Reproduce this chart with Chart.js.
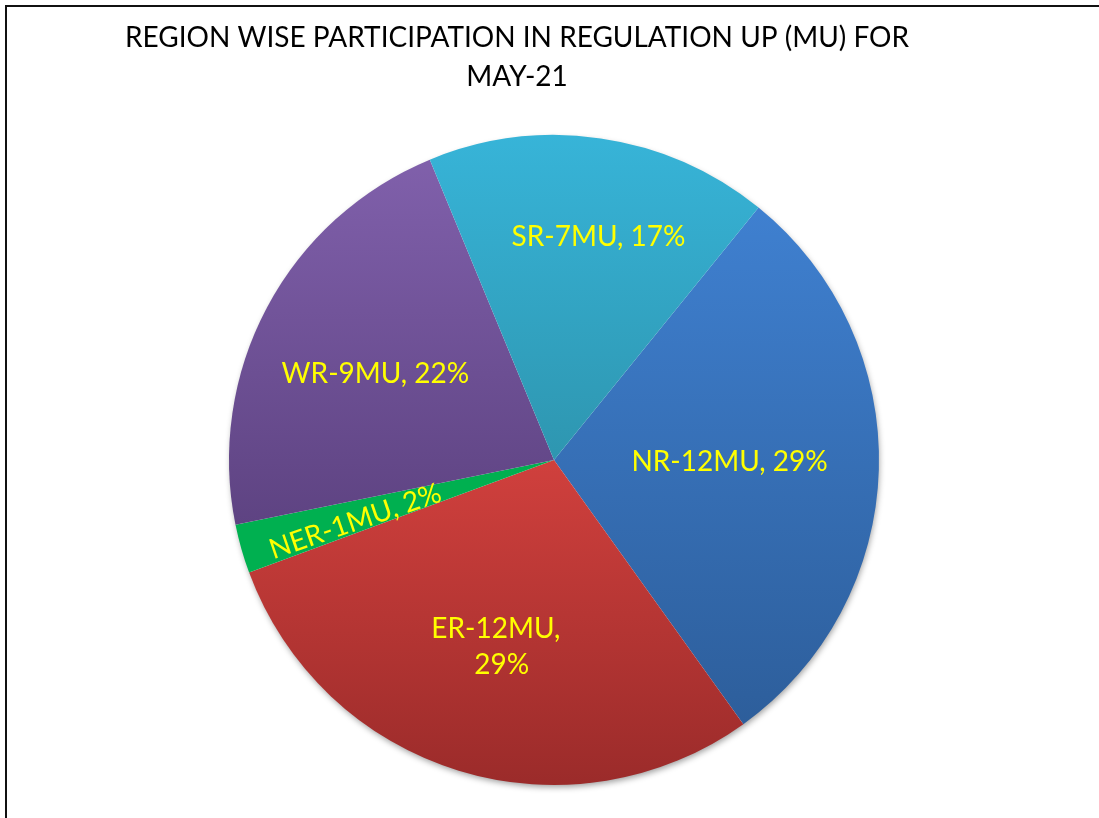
<!DOCTYPE html>
<html>
<head>
<meta charset="utf-8">
<script src="https://cdn.jsdelivr.net/npm/chart.js@4/dist/chart.umd.min.js"></script>
<style>
    body { margin: 0; background: #fff; }
    #wrap { position: relative; width: 1099px; height: 818px; }
    #frame {
        position: absolute; left: 5px; top: 5px; right: 0; bottom: 0;
        border-left: 2px solid #111; border-top: 2px solid #111;
        pointer-events: none;
    }
</style>
</head>
<body>
<div id="wrap">
    <canvas id="pieChart"></canvas>
    <div id="frame"></div>
</div>
<script>
// Datos del gráfico
const regions = ['NR', 'ER', 'NER', 'WR', 'SR'];
const energyMU = [12, 12, 1, 9, 7];
const sharePct = [29, 29, 2, 22, 17];
const titleLines = ['REGION WISE PARTICIPATION IN REGULATION UP (MU) FOR', 'MAY-21'];

// Colores (arriba, abajo) de cada sector
const topColors = ['#3f80d0', '#d0403d', '#00b050', '#8060ab', '#37b4d8'];
const bottomColors = ['#2d5e9b', '#9b2b2a', '#00b050', '#5e4382', '#2e96b0'];

// Posición de las etiquetas: fracción del radio, desplazamiento angular (grados), giro del texto
const labelPlace = [[0.54, -1, 0], [0.6, -0.6, 0], [0.64, -1.3, -19], [0.61, -2.3, 0], [0.7, 3, 0]];

// Extensión vertical de un sector para el degradado
function arcYRange(arc) {
    const { x, y, startAngle, endAngle, outerRadius } = arc;
    const ys = [y, y + Math.sin(startAngle) * outerRadius, y + Math.sin(endAngle) * outerRadius];
    [Math.PI / 2, -Math.PI / 2, Math.PI * 1.5, Math.PI * 2.5].forEach((a) => {
        if (a > startAngle && a < endAngle) ys.push(y + Math.sin(a) * outerRadius);
    });
    return [Math.min(...ys), Math.max(...ys)];
}

const sliceFill = (context) => {
    const i = context.dataIndex;
    const arc = context.element;
    if (!arc || !arc.outerRadius) return topColors[i];
    const [y0, y1] = arcYRange(arc);
    const g = context.chart.ctx.createLinearGradient(0, y0, 0, y1);
    g.addColorStop(0, topColors[i]);
    g.addColorStop(1, bottomColors[i]);
    return g;
};

// Sombra suave bajo el círculo
const pieShadow = {
    id: 'pieShadow',
    beforeDatasetsDraw(chart) {
        const arc = chart.getDatasetMeta(0).data[0];
        if (!arc) return;
        const ctx = chart.ctx;
        ctx.save();
        ctx.shadowColor = 'rgba(0, 0, 0, 0.4)';
        ctx.shadowBlur = 6;
        ctx.shadowOffsetY = 3;
        ctx.shadowOffsetX = 1;
        ctx.fillStyle = '#fff';
        ctx.beginPath();
        ctx.arc(arc.x, arc.y, arc.outerRadius - 1, 0, Math.PI * 2);
        ctx.fill();
        ctx.restore();
    }
};

const titlePlugin = {
    id: 'slideTitle',
    afterDraw(chart) {
        const ctx = chart.ctx;
        ctx.save();
        ctx.fillStyle = '#000';
        ctx.font = '28px Lato';
        ctx.textAlign = 'center';
        ctx.textBaseline = 'alphabetic';
        ctx.fillText(titleLines[0], 517, 47);
        ctx.fillText(titleLines[1], 517, 86);
        ctx.restore();
    }
};

const sliceLabels = {
    id: 'sliceLabels',
    afterDatasetsDraw(chart) {
        const ctx = chart.ctx;
        const meta = chart.getDatasetMeta(0);
        ctx.save();
        ctx.fillStyle = '#ffff00';
        ctx.font = '28px Lato';
        ctx.textAlign = 'center';
        ctx.textBaseline = 'middle';
        meta.data.forEach((arc, i) => {
            const [frac, shift, turn] = labelPlace[i];
            const mid = (arc.startAngle + arc.endAngle) / 2 + shift * Math.PI / 180;
            const r = arc.outerRadius * frac;
            const px = arc.x + Math.cos(mid) * r;
            const py = arc.y + Math.sin(mid) * r;
            const text = regions[i] + '-' + energyMU[i] + 'MU, ' + sharePct[i] + '%';
            ctx.save();
            ctx.translate(px, py);
            ctx.rotate(turn * Math.PI / 180);
            if (regions[i] === 'ER') {
                ctx.fillText(regions[i] + '-' + energyMU[i] + 'MU,', -3, -18);
                ctx.fillText(sharePct[i] + '%', 3, 18);
            } else {
                ctx.fillText(text, 0, 0);
            }
            ctx.restore();
        });
        ctx.restore();
    }
};

const pieChart = new Chart(document.getElementById('pieChart').getContext('2d'), {
    type: 'pie',
    data: {
        labels: regions,
        datasets: [{
            data: energyMU,
            backgroundColor: sliceFill,
            borderWidth: 0,
            hoverOffset: 0
        }]
    },
    options: {
        responsive: true,
        maintainAspectRatio: false,
        animation: false,
        events: [],
        rotation: 39,
        layout: { padding: { top: 135, bottom: 33, left: 229, right: 220 } },
        plugins: {
            legend: { display: false },
            tooltip: { enabled: false },
            title: { display: false }
        }
    },
    plugins: [pieShadow, titlePlugin, sliceLabels]
});

// Segunda actualización: los sectores ya tienen geometría para el degradado
pieChart.update();
</script>
</body>
</html>
